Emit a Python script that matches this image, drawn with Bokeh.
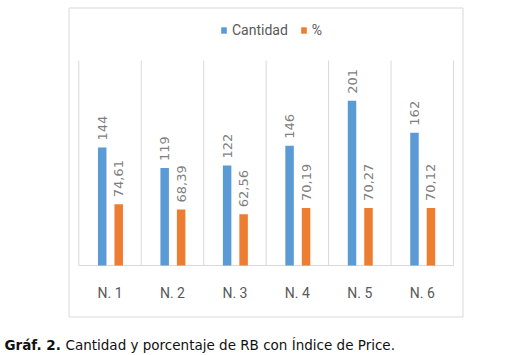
import math
from bokeh.plotting import figure
from bokeh.models import Range1d, Legend, LegendItem, ColumnDataSource
from bokeh.core.properties import value
from bokeh.embed import file_html
from bokeh.resources import INLINE

# ---- data ----
categories = ["N. 1", "N. 2", "N. 3", "N. 4", "N. 5", "N. 6"]
cantidad = [144, 119, 122, 146, 201, 162]
porcentaje = [74.61, 68.39, 62.56, 70.19, 70.27, 70.12]
series_names = ["Cantidad", "%"]
y_axis_max = 250
caption_bold = "Gráf. 2."
caption_text = "Cantidad  y porcentaje de RB con Índice de Price."

# ---- layout helpers (page pixels -> data coordinates) ----
W, H = 520, 355
FIG_X0, FIG_Y0 = 0, 0
PLOT_LEFT = 78.3
CAT_W = 62.45
BASE_Y = 265.0
PX_PER_UNIT = 0.82


def dx(X):
    return (X - PLOT_LEFT) / CAT_W


def dy(Y):
    return (BASE_Y - Y) / PX_PER_UNIT


BLUE = "#5b9bd5"
ORANGE = "#ed7d31"
GRID = "#d9d9d9"
LABEL_GRAY = "#7f7f7f"
TEXT_GRAY = "#595959"

p = figure(width=W, height=H,
           x_range=Range1d(dx(FIG_X0), dx(FIG_X0 + W)),
           y_range=Range1d(dy(FIG_Y0 + H), dy(FIG_Y0)),
           output_backend="svg", toolbar_location=None,
           x_axis_type=None, y_axis_type=None, min_border=0)
p.outline_line_color = None
p.background_fill_color = "white"
p.border_fill_color = "white"

# chart box
p.quad(left=[dx(68.5)], right=[dx(462.5)], top=[dy(7.5)], bottom=[dy(316.5)],
       fill_color="white", line_color=GRID, line_width=1)

n = len(categories)
# category gridlines
bounds = list(range(n + 1))
p.segment(x0=bounds, y0=[0] * (n + 1), x1=bounds, y1=[y_axis_max] * (n + 1),
          line_color=GRID, line_width=1)
# baseline
p.segment(x0=[0], y0=[0], x1=[n], y1=[0], line_color=GRID, line_width=1)

OFF_B, OFF_O, BW = -0.125, 0.139, 0.136
centers = [i + 0.5 for i in range(n)]
src = ColumnDataSource(dict(
    cat=categories,
    xc=centers,
    xb=[c + OFF_B for c in centers],
    xo=[c + OFF_O for c in centers],
    cant=cantidad,
    pct=porcentaje,
    cant_lbl=[str(v) for v in cantidad],
    pct_lbl=[f"{v:.2f}".replace(".", ",") for v in porcentaje],
))

rb = p.vbar(x="xb", top="cant", bottom=0, width=BW, source=src,
            fill_color=BLUE, line_color=None)
ro = p.vbar(x="xo", top="pct", bottom=0, width=BW, source=src,
            fill_color=ORANGE, line_color=None)

# value labels (rotated)
for xcol, ycol, tcol in (("xb", "cant", "cant_lbl"), ("xo", "pct", "pct_lbl")):
    p.text(x=xcol, y=ycol, text=tcol, source=src, angle=math.pi / 2,
           text_align="left", text_baseline="middle", y_offset=-7,
           text_font=value("DejaVu Sans"), text_font_size="13px",
           text_color=LABEL_GRAY)

# category labels
p.text(x="xc", y=dy(292), text="cat", source=src, text_align="center",
       text_baseline="middle", text_font=value("Roboto"),
       text_font_size="14px", text_color=TEXT_GRAY)

# legend
legend = Legend(items=[LegendItem(label=series_names[0], renderers=[rb]),
                       LegendItem(label=series_names[1], renderers=[ro])],
                orientation="horizontal", location=(220, H - 38),
                padding=0, margin=0, spacing=12, label_standoff=5,
                glyph_width=7, glyph_height=8, label_height=16,
                border_line_color=None, background_fill_alpha=0,
                label_text_font="Roboto", label_text_font_size="14px",
                label_text_color=TEXT_GRAY)
p.add_layout(legend)

# caption
p.text(x=[dx(4)], y=[dy(344)], text=[caption_bold],
       text_font=value("DejaVu Sans"), text_font_style="bold",
       text_font_size="13.5px", text_baseline="alphabetic",
       text_align="left", text_color="#111111")
p.text(x=[dx(4)], y=[dy(344)], text=[caption_text], x_offset=61,
       text_font=value("DejaVu Sans"), text_font_size="13.5px",
       text_baseline="alphabetic", text_align="left", text_color="#111111")

open("out.html", "w").write(file_html(p, INLINE))
